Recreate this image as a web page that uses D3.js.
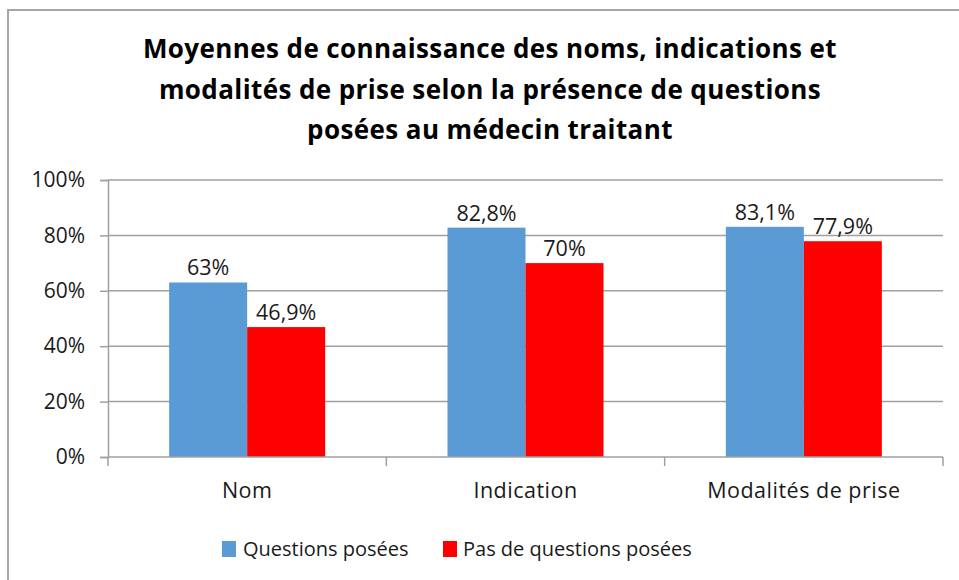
<!DOCTYPE html>
<html><head><meta charset="utf-8">
<script src="https://cdn.jsdelivr.net/npm/d3@7"></script>
<style>
html,body{margin:0;padding:0;background:#fff;}
svg{display:block;}
text{font-family:"Open Sans","Noto Sans",sans-serif;}
</style></head>
<body>
<svg id="c" width="959" height="580"></svg>
<script>
const titleLines = ["Moyennes de connaissance des noms, indications et",
  "modalités de prise selon la présence de questions",
  "posées au médecin traitant"];
const categories = ["Nom", "Indication", "Modalités de prise"];
const seriesNames = ["Questions posées", "Pas de questions posées"];
const questionsPosees = [63, 82.8, 83.1];
const pasDeQuestions = [46.9, 70, 77.9];
const dataLabels = [["63%", "82,8%", "83,1%"], ["46,9%", "70%", "77,9%"]];
const yTicks = [0, 20, 40, 60, 80, 100];
const yTickLabels = ["0%", "20%", "40%", "60%", "80%", "100%"];
const colors = ["#5B9BD5", "#FF0000"];

const series = [questionsPosees, pasDeQuestions];
const svg = d3.select("#c");
const txt = "#1a1a1a";

// outer frame
svg.append("rect").attr("x", 8).attr("y", 10).attr("width", 960).attr("height", 580)
  .attr("fill", "#fff").attr("stroke", "#a6a6a6").attr("stroke-width", 2);

// title
const tl = svg.append("text").attr("text-anchor", "middle")
  .attr("font-weight", "bold").attr("font-size", 26).attr("fill", "#000")
  .attr("letter-spacing", 0.4);
titleLines.forEach((t, i) => {
  tl.append("tspan").attr("x", 490).attr("y", 58 + i * 40.5).text(t);
});

const pLeft = 108, pRight = 943, pTop = 180, pBottom = 457;
const x = d3.scaleBand().domain(categories).range([pLeft, pRight]).paddingInner(0).paddingOuter(0);
const xi = d3.scaleBand().domain(d3.range(series.length)).range([0, x.bandwidth()]).paddingInner(0).paddingOuter(0.784);
const y = d3.scaleLinear().domain([0, 100]).range([pBottom, pTop]);

// gridlines
svg.append("g").selectAll("line").data(yTicks.filter(d => d > 0)).join("line")
  .attr("x1", pLeft).attr("x2", pRight)
  .attr("y1", d => y(d)).attr("y2", d => y(d))
  .attr("stroke", "#a0a0a0").attr("stroke-width", 1.5);

// y axis
const yAxis = d3.axisLeft(y).tickValues(yTicks).tickSize(8).tickPadding(15)
  .tickFormat((d, i) => yTickLabels[i]);
const gy = svg.append("g").attr("transform", `translate(${pLeft},0)`).call(yAxis);
gy.select(".domain").attr("stroke", "#a0a0a0").attr("stroke-width", 1.5);
gy.selectAll(".tick line").attr("stroke", "#a0a0a0").attr("stroke-width", 1.5);
gy.selectAll(".tick text").attr("font-size", 21).attr("fill", txt)
  .style("font-family", "'Open Sans', sans-serif");

// bars
series.forEach((vals, s) => {
  svg.append("g").selectAll("rect").data(vals).join("rect")
    .attr("x", (d, i) => x(categories[i]) + xi(s))
    .attr("y", d => y(d))
    .attr("width", xi.bandwidth())
    .attr("height", d => y(0) - y(d))
    .attr("fill", colors[s]);
  svg.append("g").selectAll("text").data(vals).join("text")
    .attr("x", (d, i) => x(categories[i]) + xi(s) + xi.bandwidth() / 2)
    .attr("y", d => y(d) - 7)
    .attr("text-anchor", "middle").attr("font-size", 21.5).attr("fill", txt)
    .text((d, i) => dataLabels[s][i]);
});

// x axis
const xAxis = d3.axisBottom(x).tickSize(0).tickPadding(26);
const gx = svg.append("g").attr("transform", `translate(0,${pBottom})`).call(xAxis);
gx.select(".domain").remove();
gx.append("line").attr("x1", pLeft).attr("x2", pRight).attr("y1", 0).attr("y2", 0)
  .attr("stroke", "#a0a0a0").attr("stroke-width", 1.5);
const bounds = categories.map(c => x(c)).concat([pRight]);
gx.selectAll(".bound").data(bounds).join("line").attr("class", "bound")
  .attr("x1", d => d).attr("x2", d => d).attr("y1", 0).attr("y2", 9)
  .attr("stroke", "#a0a0a0").attr("stroke-width", 1.5);
gx.selectAll(".tick text").attr("font-size", 21.5).attr("fill", txt)
  .attr("letter-spacing", 0.5)
  .style("font-family", "'Open Sans', sans-serif");

// legend
const legendX = [222, 443];
const lg = svg.append("g");
seriesNames.forEach((n, i) => {
  lg.append("rect").attr("x", legendX[i]).attr("y", 541).attr("width", 14).attr("height", 16)
    .attr("fill", colors[i]);
  lg.append("text").attr("x", legendX[i] + (i === 0 ? 21 : 20)).attr("y", 556)
    .attr("font-size", 20).attr("fill", txt).text(n);
});
</script>
</body></html>
